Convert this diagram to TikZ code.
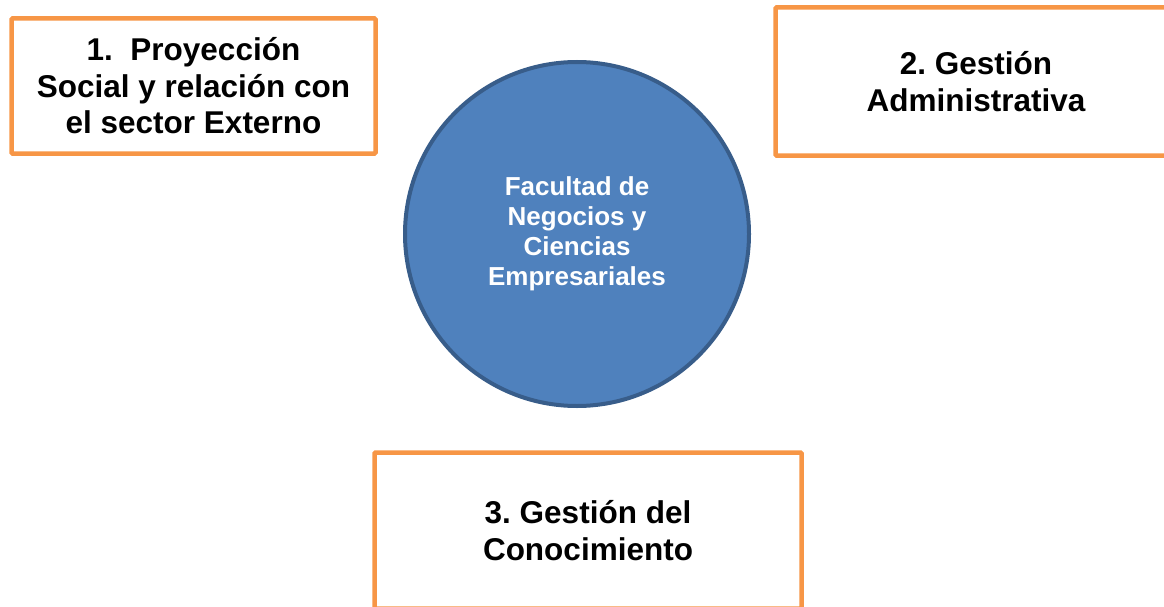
\documentclass[tikz,border=0pt]{standalone}
\usepackage{fontspec}
\setmainfont{Liberation Sans}
\frenchspacing
\definecolor{boxorange}{HTML}{F79646}
\definecolor{circfill}{HTML}{4F81BD}
\definecolor{circline}{HTML}{385D8A}
\tikzset{
  areabox/.style={draw=boxorange, line width=4.5pt, fill=white, rounded corners=1pt,
    align=center, text=black, inner sep=0pt,
    font=\fontsize{31.5}{36.5}\selectfont\bfseries},
  core/.style={circle, draw=circline, line width=4pt, fill=circfill, align=center,
    text=white, inner sep=0pt, minimum size=344pt,
    font=\fontsize{26}{30}\selectfont\bfseries}
}
\begin{document}
\begin{tikzpicture}[x=1pt,y=-1pt]
\useasboundingbox (0,0) rectangle (1164,607);
\clip (0,0) rectangle (1164,607);
\node[areabox, minimum width=364pt, minimum height=135pt] (b1) at (193.5,86)
  {1.\ \ Proyección\\Social y relación con\\el sector Externo};
\node[areabox, minimum width=401pt, minimum height=148pt] (b2) at (976,81.5)
  {2. Gestión\\Administrativa};
\node[areabox, minimum width=427pt, minimum height=156pt] (b3) at (588,530.5)
  {3. Gestión del\\Conocimiento};
\node[core] (c) at (577,234)
  {Facultad de\\Negocios y\\Ciencias\\Empresariales};
\end{tikzpicture}
\end{document}
